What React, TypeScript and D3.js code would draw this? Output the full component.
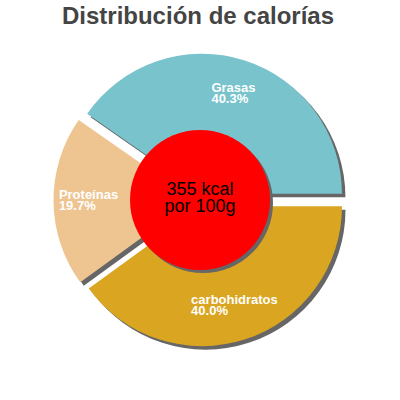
import { useEffect, useRef } from "react";
import * as d3 from "d3";

// values, clockwise from 3 o'clock
const categories = ["carbohidratos", "Proteínas", "Grasas"];
const percents = [40.0, 19.7, 40.3];
const colors = ["#daa520", "#eec591", "#78c3cc"];
const centerLines = ["355 kcal", "por 100g"];
const title = "Distribución de calorías";

export default function App() {
    const svgRef = useRef<SVGSVGElement | null>(null);

    useEffect(() => {
        const svg = d3.select(svgRef.current);
        svg.selectAll("*").remove();

        const width = 400;
        const height = 400;
        const cx = 200;
        const cy = 200;
        const outer = 140;
        const inner = 60;
        const explode = 6.5;
        const font = "'Liberation Sans', Arial, sans-serif";

        svg.attr("width", width).attr("height", height);

        const data = categories.map((c, i) => ({ name: c, value: percents[i], color: colors[i] }));

        const pie = d3.pie<any>()
            .sort(null)
            .value(d => d.value)
            .startAngle(Math.PI / 2)
            .endAngle(Math.PI / 2 + 2 * Math.PI);

        const arc = d3.arc<any>().innerRadius(inner).outerRadius(outer);
        const arcs = pie(data);

        // shift each slice out along its bisector
        const shift = (d, r) => {
            const a = (d.startAngle + d.endAngle) / 2;
            return [cx + Math.sin(a) * r, cy - Math.cos(a) * r];
        };

        // shadows first
        svg.append("g")
            .selectAll("path")
            .data(arcs)
            .join("path")
            .attr("d", arc)
            .attr("fill", "#666666")
            .attr("transform", d => {
                const [x, y] = shift(d, explode);
                return `translate(${x + 3.5},${y + 3.5})`;
            });

        svg.append("g")
            .selectAll("path")
            .data(arcs)
            .join("path")
            .attr("d", arc)
            .attr("fill", d => d.data.color)
            .attr("transform", d => {
                const [x, y] = shift(d, explode);
                return `translate(${x},${y})`;
            });

        // slice labels: two lines, left aligned, block centred on the anchor
        arcs.forEach(d => {
            const [sx, sy] = shift(d, explode);
            const a = (d.startAngle + d.endAngle) / 2;
            const ax = sx + Math.sin(a) * 105;
            const ay = sy - Math.cos(a) * 105;

            const t = svg.append("text")
                .attr("fill", "#ffffff")
                .attr("font-family", font)
                .attr("font-weight", "bold")
                .attr("font-size", 13)
                .attr("y", ay - 2);
            t.append("tspan").attr("x", 0).text(d.data.name);
            t.append("tspan").attr("x", 0).attr("dy", 11).text(`${d.data.value.toFixed(1)}%`);

            const w = (t.node() as SVGTextElement).getBBox().width;
            t.selectAll("tspan").attr("x", ax - w / 2);
        });

        // centre disc
        svg.append("circle")
            .attr("cx", cx + 3)
            .attr("cy", cy + 3)
            .attr("r", 70)
            .attr("fill", "#666666");
        svg.append("circle")
            .attr("cx", cx)
            .attr("cy", cy)
            .attr("r", 70)
            .attr("fill", "#ff0000");

        svg.append("g")
            .selectAll("text")
            .data(centerLines)
            .join("text")
            .attr("x", cx)
            .attr("y", (d, i) => 195 + i * 17)
            .attr("text-anchor", "middle")
            .attr("font-family", font)
            .attr("font-size", 18)
            .attr("fill", "#000000")
            .text(d => d);

        svg.append("text")
            .attr("x", 198)
            .attr("y", 24)
            .attr("text-anchor", "middle")
            .attr("font-family", font)
            .attr("font-weight", "bold")
            .attr("font-size", 24)
            .attr("fill", "#444444")
            .text(title);
    }, []);

    return (
        <div style={{ position: "absolute", left: 0, top: 0 }}>
            <svg ref={svgRef} style={{ display: "block" }} />
        </div>
    );
}
